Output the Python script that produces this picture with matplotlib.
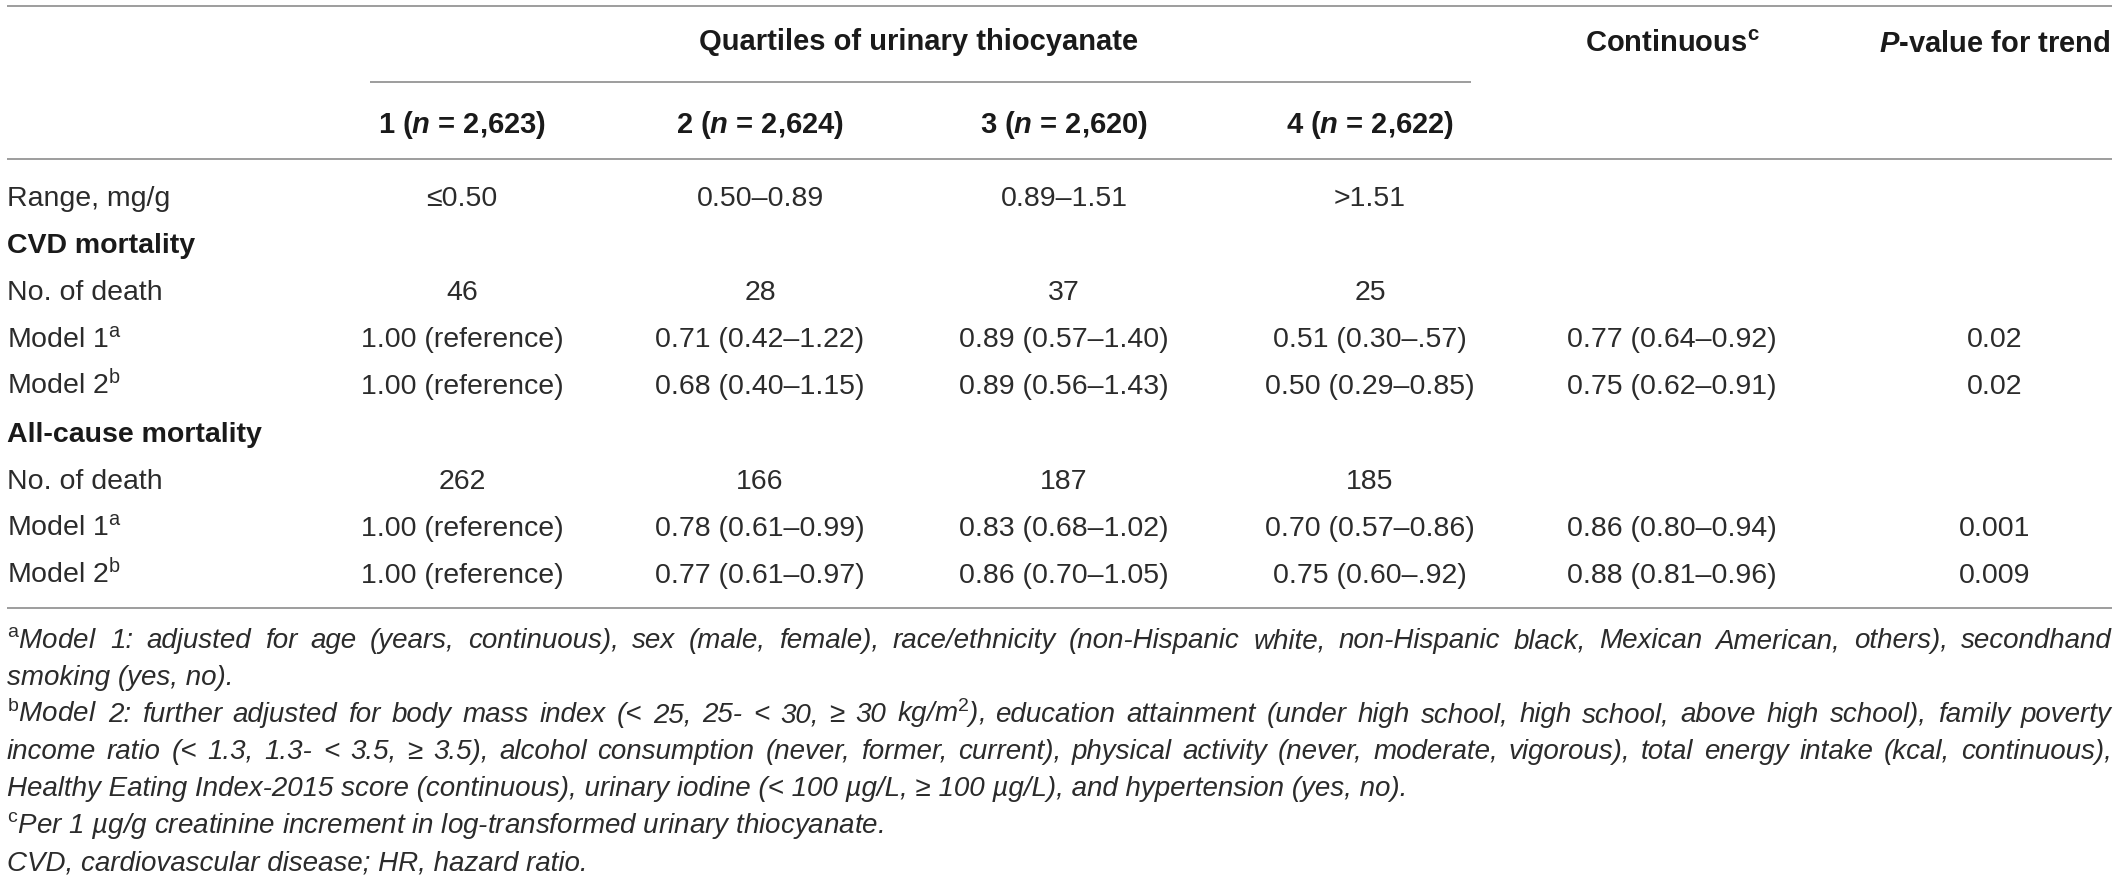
import matplotlib
matplotlib.use("Agg")
import matplotlib.pyplot as plt

plt.rcParams["font.family"] = ["Liberation Sans", "DejaVu Sans"]
plt.rcParams["mathtext.fontset"] = "custom"
plt.rcParams["mathtext.rm"] = "Liberation Sans"
plt.rcParams["mathtext.it"] = "Liberation Sans:italic:bold"
plt.rcParams["mathtext.bf"] = "Liberation Sans:bold"

# ---- table content ----
group_header = "Quartiles of urinary thiocyanate"
col_headers = [
    r"1 ($\mathit{n}$ = 2,623)",
    r"2 ($\mathit{n}$ = 2,624)",
    r"3 ($\mathit{n}$ = 2,620)",
    r"4 ($\mathit{n}$ = 2,622)",
    r"Continuous$^{\mathbf{c}}$",
    r"$\mathit{P}$-value for trend",
]
row_labels = [
    "Range, mg/g",
    "CVD mortality",
    "No. of death",
    r"Model 1$^{\mathrm{a}}$",
    r"Model 2$^{\mathrm{b}}$",
    "All-cause mortality",
    "No. of death",
    r"Model 1$^{\mathrm{a}}$",
    r"Model 2$^{\mathrm{b}}$",
]
section_rows = [1, 5]

q1 = ["≤0.50", "", "46", "1.00 (reference)", "1.00 (reference)",
      "", "262", "1.00 (reference)", "1.00 (reference)"]
q2 = ["0.50–0.89", "", "28", "0.71 (0.42–1.22)", "0.68 (0.40–1.15)",
      "", "166", "0.78 (0.61–0.99)", "0.77 (0.61–0.97)"]
q3 = ["0.89–1.51", "", "37", "0.89 (0.57–1.40)", "0.89 (0.56–1.43)",
      "", "187", "0.83 (0.68–1.02)", "0.86 (0.70–1.05)"]
q4 = [">1.51", "", "25", "0.51 (0.30–.57)", "0.50 (0.29–0.85)",
      "", "185", "0.70 (0.57–0.86)", "0.75 (0.60–.92)"]
continuous = ["", "", "", "0.77 (0.64–0.92)", "0.75 (0.62–0.91)",
              "", "", "0.86 (0.80–0.94)", "0.88 (0.81–0.96)"]
p_trend = ["", "", "", "0.02", "0.02", "", "", "0.001", "0.009"]

# footnote lines (text, justified?)
footnotes = [
    (r"${}^{\mathrm{a}}$Model 1: adjusted for age (years, continuous), sex (male, female), "
     "race/ethnicity (non-Hispanic white, non-Hispanic black, Mexican American, others), secondhand", True),
    ("smoking (yes, no).", False),
    (r"${}^{\mathrm{b}}$Model 2: further adjusted for body mass index (< 25, 25- < 30, ≥ 30 kg/m$^{\mathrm{2}}$), "
     "education attainment (under high school, high school, above high school), family poverty", True),
    ("income ratio (< 1.3, 1.3- < 3.5, ≥ 3.5), alcohol consumption (never, former, current), "
     "physical activity (never, moderate, vigorous), total energy intake (kcal, continuous),", True),
    ("Healthy Eating Index-2015 score (continuous), urinary iodine (< 100 µg/L, ≥ 100 µg/L), "
     "and hypertension (yes, no).", False),
    (r"${}^{\mathrm{c}}$Per 1 µg/g creatinine increment in log-transformed urinary thiocyanate.", False),
    ("CVD, cardiovascular disease; HR, hazard ratio.", False),
]

# ---- layout (pixels) ----
W, H = 2119, 880
left, right = 7, 2112
col_x = [462, 760, 1064, 1370, 1672, 1995]
row_base0, row_step = 206, 47.1
fs = 20.5
txt_color = "#2b2b2b"
line_color = "#8c8c8c"

fig = plt.figure(figsize=(W / 100, H / 100), dpi=100)
ax = fig.add_axes([0, 0, 1, 1])
ax.set_xlim(0, W)
ax.set_ylim(H, 0)
ax.axis("off")

# rules
ax.hlines([6, 159, 608], left, right, color=line_color, linewidth=1.2)
ax.hlines(82, 370, 1471, color=line_color, linewidth=1.2)

# headers
ax.text(919, 50, group_header, ha="center", va="baseline",
        fontsize=21, fontweight="bold", color="#1a1a1a")
for i, h in enumerate(col_headers):
    y = 52 if i >= 4 else 133
    ax.text(col_x[i], y, h, ha="center", va="baseline",
            fontsize=21, fontweight="bold", color="#1a1a1a")

# body
columns = [q1, q2, q3, q4, continuous, p_trend]
for r, label in enumerate(row_labels):
    y = row_base0 + r * row_step
    bold = r in section_rows
    ax.text(left, y, label, ha="left", va="baseline", fontsize=fs,
            fontweight="bold" if bold else "normal",
            color="#1a1a1a" if bold else txt_color)
    for c, col in enumerate(columns):
        if col[r]:
            ax.text(col_x[c], y, col[r], ha="center", va="baseline",
                    fontsize=fs, color=txt_color)

# footnotes, with justified lines
fig.canvas.draw()
renderer = fig.canvas.get_renderer()
foot_base0, foot_step = 648, 37
for i, (line, justify) in enumerate(footnotes):
    y = foot_base0 + i * foot_step
    if not justify:
        ax.text(left, y, line, ha="left", va="baseline", fontsize=20,
                style="italic", color=txt_color)
        continue
    words = line.split(" ")
    arts = [ax.text(0, y, w, ha="left", va="baseline", fontsize=20,
                    style="italic", color=txt_color) for w in words]
    widths = [a.get_window_extent(renderer).width for a in arts]
    gap = (right - left - sum(widths)) / (len(words) - 1)
    x = left
    for a, wdt in zip(arts, widths):
        a.set_x(x)
        x += wdt + gap

fig.savefig("out.png", dpi=100)
